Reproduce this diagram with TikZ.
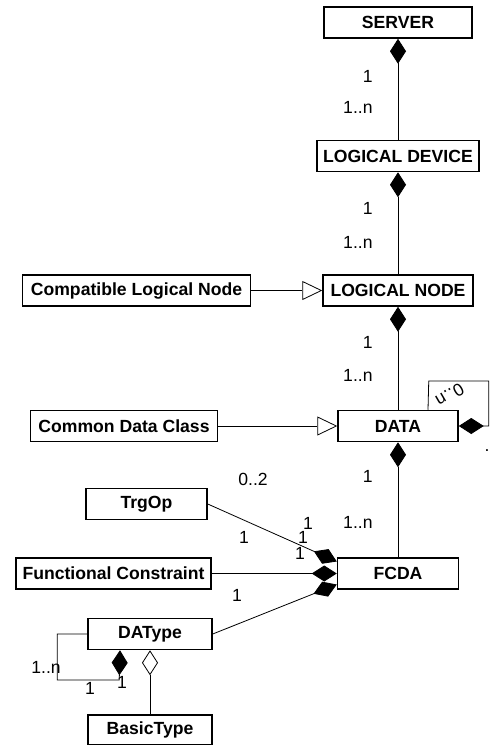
\documentclass[tikz,border=0pt]{standalone}
\usepackage{fontspec}
\setmainfont{Liberation Sans}
\usetikzlibrary{arrows.meta,positioning}

\begin{document}
\begin{tikzpicture}[x=1pt, y=-1pt, font=\fontsize{17.6}{20}\selectfont,
  box/.style={rectangle, draw, line width=1.5pt, font=\fontsize{17.6}{20}\selectfont\bfseries, minimum height=31pt, inner sep=0pt},
  lbl/.style={inner sep=0pt},
  line/.style={draw, line width=0.8pt},
  comp/.style={line, arrows={Diamond[length=25pt, width=16pt]-}},
  compin/.style={line, arrows={-Diamond[length=25pt, width=16pt]}},
  aggr/.style={line, arrows={Diamond[open, length=25pt, width=16pt]-}},
  gen/.style={line, arrows={-Triangle[open, length=20pt, width=19pt]}}]

  \useasboundingbox (0,0) rectangle (490,745);

  % Nodes
  \node [box, minimum width=148pt] (server) at (398,22.5) {SERVER};
  \node [box, minimum width=162pt, below=101pt of server] (ldevice) {LOGICAL DEVICE};
  \node [box, minimum width=150pt, below=102pt of ldevice] (lnode) {LOGICAL NODE};
  \node [box, minimum width=228pt, left=71pt of lnode] (compln) {Compatible Logical Node};
  \node [box, minimum width=120pt, below=103pt of lnode] (data) {DATA};
  \node [box, minimum width=187pt, left=119pt of data] (cdc) {Common Data Class};
  \node [box, minimum width=121pt, below=115pt of data] (fcda) {FCDA};
  \node [box, minimum width=195pt, left=125pt of fcda] (fcons) {Functional Constraint};
  \node [box, minimum width=121pt] (trgop) at (146.5,504) {TrgOp};
  \node [box, minimum width=124pt] (datype) at (150,634) {DAType};
  \node [box, minimum width=124pt, minimum height=30pt, below=64pt of datype] (basic) {BasicType};

  % Edges
  \path [comp] (server) -- node[lbl, pos=0.37, left=25pt] {1} node[lbl, pos=0.68, left=25pt] {1..n} (ldevice);
  \path [comp] (ldevice) -- node[lbl, pos=0.35, left=25pt] {1} node[lbl, pos=0.69, left=25pt] {1..n} (lnode);
  \path [comp] (lnode) -- node[lbl, pos=0.35, left=25pt] {1} node[lbl, pos=0.67, left=25pt] {1..n} (data);
  \path [comp] (data) -- node[lbl, pos=0.30, left=25pt] {1} node[lbl, pos=0.70, left=25pt] {1..n} (fcda);

  \path [gen] (compln) -- (lnode);
  \path [gen] (cdc) -- (data);

  \path [comp] (data.east) -- ++(30,0) -- ++(0,-45) -- ++(-60,0) -- ([xshift=30pt]data.north);
  \node [lbl, rotate=210] (datamult) at (450,395) {0..n};
  \node [lbl] (datadot) at (487,451) {.};

  \path [comp] ([yshift=12pt]fcda.west) -- (trgop.east);
  \path [comp] (fcda.west) -- (fcons);
  \path [comp] ([yshift=-11pt]fcda.west) -- (datype.east);
  \node [lbl] (trgmax) at (253,479) {0..2};
  \node [lbl] (trgmin) at (244,537) {1};
  \node [lbl] (fctrg) at (308,523) {1};
  \node [lbl] (fcfc) at (303,537) {1};
  \node [lbl] (fcfcb) at (300,553) {1};
  \node [lbl] (fcdat) at (237,595) {1};

  \path [compin] (datype.west) -- ++(-30,0) -- ++(0,46) -- ++(62,0) -- ([xshift=-30pt]datype.south);
  \node [lbl] (dtmax) at (46,667) {1..n};
  \node [lbl] (dtmin) at (90,688) {1};
  \node [lbl] (dtone) at (122,682) {1};
  \path [aggr] (datype) -- (basic);

\end{tikzpicture}
\end{document}
